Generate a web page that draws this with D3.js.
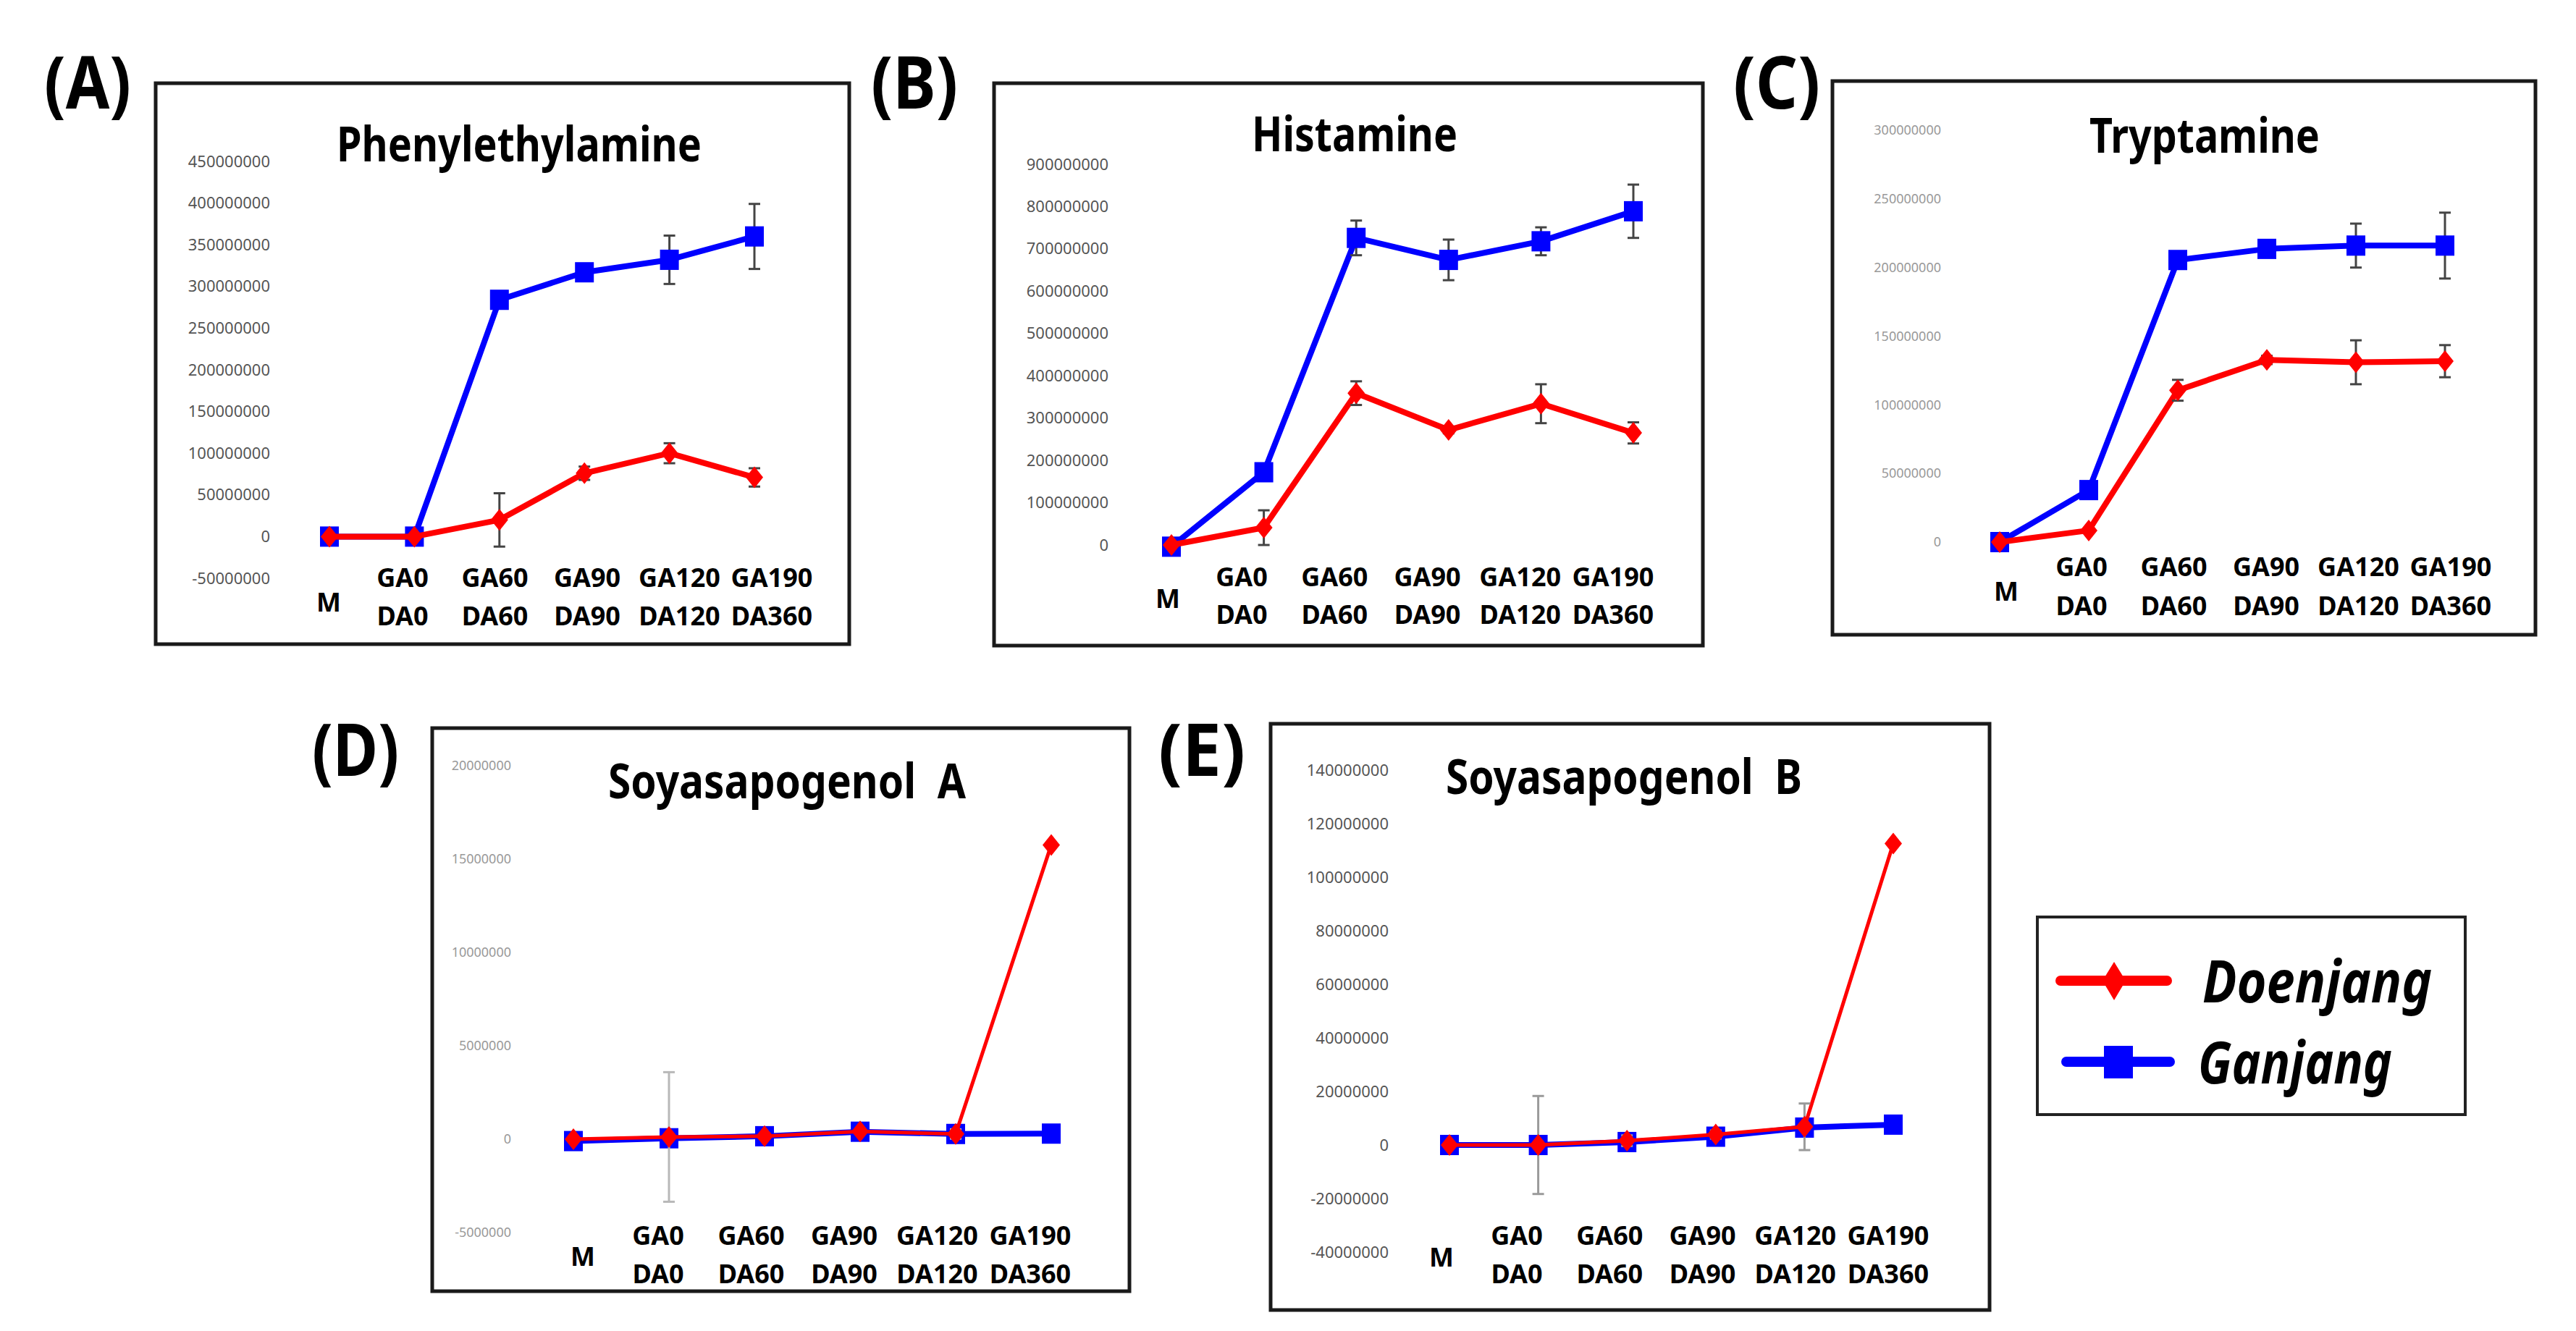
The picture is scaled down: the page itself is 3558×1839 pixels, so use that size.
<!DOCTYPE html>
<html>
<head>
<meta charset="utf-8">
<script src="https://cdn.jsdelivr.net/npm/d3@7"></script>
<style>
  body { margin: 0; background: #fff; }
  text { font-family: "Noto Sans", "Open Sans", sans-serif; }
</style>
</head>
<body>
<svg class="fig"></svg>
<script>
var categories = ['M', 'GA0', 'GA60', 'GA90', 'GA120', 'GA190'];
var gaLabels = ['GA0', 'GA60', 'GA90', 'GA120', 'GA190'];
var daLabels = ['DA0', 'DA60', 'DA90', 'DA120', 'DA360'];
var titles = ['Phenylethylamine', 'Histamine', 'Tryptamine', 'Soyasapogenol  A', 'Soyasapogenol  B'];
var tags = ['(A)', '(B)', '(C)', '(D)', '(E)'];
var seriesNames = ['Doenjang', 'Ganjang'];

// (A) Phenylethylamine
var pheTicks = [-50000000, 0, 50000000, 100000000, 150000000, 200000000, 250000000, 300000000, 350000000, 400000000, 450000000];
var pheDoen = [0, 0, 20000000, 76000000, 100000000, 71000000];
var pheDoenErr = [0, 0, 32000000, 8000000, 12000000, 11000000];
var pheGan = [0, 0, 284000000, 317000000, 332000000, 360000000];
var pheGanErr = [0, 0, 4000000, 9000000, 29000000, 39000000];

// (B) Histamine
var hisTicks = [0, 100000000, 200000000, 300000000, 400000000, 500000000, 600000000, 700000000, 800000000, 900000000];
var hisDoen = [0, 41000000, 359000000, 272000000, 334000000, 265000000];
var hisDoenErr = [0, 41000000, 28000000, 8000000, 46000000, 25000000];
var hisGan = [-4000000, 172000000, 726000000, 674000000, 718000000, 789000000];
var hisGanErr = [0, 8000000, 41000000, 48000000, 33000000, 63000000];

// (C) Tryptamine
var tryTicks = [0, 50000000, 100000000, 150000000, 200000000, 250000000, 300000000];
var tryDoen = [0, 8500000, 110600000, 132700000, 131000000, 131800000];
var tryDoenErr = [0, 0, 7600000, 3000000, 16000000, 11700000];
var tryGan = [0, 37900000, 205500000, 213600000, 216000000, 216000000];
var tryGanErr = [0, 0, 3000000, 3000000, 16000000, 24000000];

// (D) Soyasapogenol A
var saTicks = [-5000000, 0, 5000000, 10000000, 15000000, 20000000];
var saDoen = [0, 120000, 160000, 420000, 280000, 15760000];
var saDoenErr = [0, 3470000, 0, 0, 250000, 0];
var saGan = [-100000, 50000, 160000, 400000, 280000, 300000];
var saGanErr = [0, 0, 0, 0, 0, 0];

// (E) Soyasapogenol B
var sbTicks = [-40000000, -20000000, 0, 20000000, 40000000, 60000000, 80000000, 100000000, 120000000, 140000000];
var sbDoen = [0, 0, 1600000, 3900000, 6800000, 112600000];
var sbDoenErr = [0, 18300000, 2000000, 1500000, 8700000, 0];
var sbGan = [0, 0, 1100000, 3100000, 6500000, 7600000];
var sbGanErr = [0, 0, 0, 0, 0, 0];

var red = '#ff0000', blue = '#0000ff';

var panels = [
  { doen: pheDoen, doenErr: pheDoenErr, gan: pheGan, ganErr: pheGanErr, ticks: pheTicks,
    box: [215, 115, 1173, 890], tag: [61, 150], title: [465, 223, 504],
    yr: [799, 223], xr: [455, 1042], lr: [556, 1066], mx: 454, rows: [811, 864, 845],
    tickX: 373, tickSize: 22, tickColor: '#555', errColor: '#444', redW: 8 },
  { doen: hisDoen, doenErr: hisDoenErr, gan: hisGan, ganErr: hisGanErr, ticks: hisTicks,
    box: [1373, 115, 2352, 892], tag: [1203, 150], title: [1729, 209, 284],
    yr: [753, 227], xr: [1618, 2256], lr: [1715, 2228], mx: 1613, rows: [810, 862, 840],
    tickX: 1531, tickSize: 22, tickColor: '#555', errColor: '#444', redW: 8 },
  { doen: tryDoen, doenErr: tryDoenErr, gan: tryGan, ganErr: tryGanErr, ticks: tryTicks,
    box: [2531, 112, 3502, 877], tag: [2394, 150], title: [2886, 211, 318],
    yr: [749, 180], xr: [2762, 3377], lr: [2875, 3385], mx: 2771, rows: [796, 850, 830],
    tickX: 2681, tickSize: 18, tickColor: '#999', errColor: '#444', redW: 8 },
  { doen: saDoen, doenErr: saDoenErr, gan: saGan, ganErr: saGanErr, ticks: saTicks,
    box: [597, 1006, 1560, 1784], tag: [431, 1072], title: [840, 1103, 494],
    yr: [1703, 1058], xr: [792, 1452], lr: [909, 1423], mx: 805, rows: [1720, 1773, 1749],
    tickX: 706, tickSize: 18, tickColor: '#999', errColor: '#b8b8b8', redW: 5 },
  { doen: sbDoen, doenErr: sbDoenErr, gan: sbGan, ganErr: sbGanErr, ticks: sbTicks,
    box: [1755, 1000, 2748, 1810], tag: [1600, 1072], title: [1997, 1097, 492],
    yr: [1730, 1064], xr: [2002, 2615], lr: [2095, 2608], mx: 1991, rows: [1720, 1773, 1750],
    tickX: 1918, tickSize: 22, tickColor: '#555', errColor: '#9a9a9a', redW: 5 }
];

var svg = d3.select('.fig').attr('width', 3558).attr('height', 1839);

function drawPanel(p, i) {
  var g = svg.append('g');
  g.append('rect')
    .attr('x', p.box[0]).attr('y', p.box[1])
    .attr('width', p.box[2] - p.box[0]).attr('height', p.box[3] - p.box[1])
    .attr('fill', '#fff').attr('stroke', '#1a1a1a').attr('stroke-width', 5);

  g.append('text').attr('x', p.tag[0]).attr('y', p.tag[1])
    .attr('font-size', 100).attr('font-weight', 700)
    .attr('textLength', 120).attr('lengthAdjust', 'spacingAndGlyphs')
    .text(tags[i]);

  g.append('text').attr('x', p.title[0]).attr('y', p.title[1])
    .attr('font-size', 66).attr('font-weight', 700)
    .attr('textLength', p.title[2]).attr('lengthAdjust', 'spacingAndGlyphs')
    .style('white-space', 'pre')
    .text(titles[i]);

  var x = d3.scalePoint().domain(categories).range(p.xr);
  var y = d3.scaleLinear().domain([p.ticks[0], p.ticks[p.ticks.length - 1]]).range(p.yr);

  // y axis: labels only, no line (hyphen minus like the original)
  var yAxis = d3.axisLeft(y).tickValues(p.ticks).tickSize(0).tickPadding(0)
    .tickFormat(function(d) { return String(d); });
  var ax = g.append('g').attr('transform', 'translate(' + p.tickX + ',0)').call(yAxis);
  ax.select('.domain').remove();
  ax.selectAll('text')
    .attr('font-size', p.tickSize)
    .attr('fill', p.tickColor)
    .style('font-family', '"Noto Sans", sans-serif');

  // category labels
  var lx = d3.scalePoint().domain(gaLabels).range(p.lr);
  g.append('text').attr('x', p.mx).attr('y', p.rows[2])
    .attr('text-anchor', 'middle').attr('font-size', 36).attr('font-weight', 700)
    .text(categories[0]);
  g.selectAll('.ga').data(gaLabels).enter().append('text')
    .attr('x', function(d) { return lx(d); }).attr('y', p.rows[0])
    .attr('text-anchor', 'middle').attr('font-size', 36).attr('font-weight', 700)
    .text(function(d) { return d; });
  g.selectAll('.da').data(daLabels).enter().append('text')
    .attr('x', function(d, j) { return lx(gaLabels[j]); }).attr('y', p.rows[1])
    .attr('text-anchor', 'middle').attr('font-size', 36).attr('font-weight', 700)
    .text(function(d) { return d; });

  function series(vals, errs, color, width, marker) {
    var pts = vals.map(function(v, j) { return { c: categories[j], v: v, e: errs[j] }; });
    var line = d3.line().x(function(d) { return x(d.c); }).y(function(d) { return y(d.v); });
    g.append('path').datum(pts)
      .attr('d', line).attr('fill', 'none')
      .attr('stroke', color).attr('stroke-width', width).attr('stroke-linejoin', 'round');

    var eb = g.selectAll(null).data(pts.filter(function(d) { return d.e > 0; })).enter().append('g');
    eb.append('line')
      .attr('x1', function(d) { return x(d.c); }).attr('x2', function(d) { return x(d.c); })
      .attr('y1', function(d) { return y(d.v + d.e); }).attr('y2', function(d) { return y(d.v - d.e); })
      .attr('stroke', p.errColor).attr('stroke-width', 3);
    [1, -1].forEach(function(s) {
      eb.append('line')
        .attr('x1', function(d) { return x(d.c) - 8; }).attr('x2', function(d) { return x(d.c) + 8; })
        .attr('y1', function(d) { return y(d.v + s * d.e); }).attr('y2', function(d) { return y(d.v + s * d.e); })
        .attr('stroke', p.errColor).attr('stroke-width', 3);
    });

    if (marker === 'square') {
      g.selectAll(null).data(pts).enter().append('rect')
        .attr('x', function(d) { return x(d.c) - 13; })
        .attr('y', function(d) { return y(d.v) - 14; })
        .attr('width', 26).attr('height', 28).attr('fill', color);
    } else {
      g.selectAll(null).data(pts).enter().append('path')
        .attr('d', function(d) {
          var cx = x(d.c), cy = y(d.v);
          return 'M' + cx + ',' + (cy - 15) + 'L' + (cx + 12) + ',' + cy + 'L' + cx + ',' + (cy + 15) + 'L' + (cx - 12) + ',' + cy + 'Z';
        })
        .attr('fill', color);
    }
  }

  series(p.gan, p.ganErr, blue, 8, 'square');
  series(p.doen, p.doenErr, red, p.redW, 'diamond');
}

panels.forEach(drawPanel);

// legend
var lg = svg.append('g');
lg.append('rect').attr('x', 2814).attr('y', 1267).attr('width', 591).attr('height', 273)
  .attr('fill', '#fff').attr('stroke', '#222').attr('stroke-width', 4);
lg.append('line').attr('x1', 2846).attr('x2', 2993).attr('y1', 1355).attr('y2', 1355)
  .attr('stroke', red).attr('stroke-width', 14).attr('stroke-linecap', 'round');
lg.append('path').attr('d', 'M2920,1329L2936,1355L2920,1382L2904,1355Z').attr('fill', red);
lg.append('line').attr('x1', 2854).attr('x2', 2997).attr('y1', 1467).attr('y2', 1467)
  .attr('stroke', blue).attr('stroke-width', 14).attr('stroke-linecap', 'round');
lg.append('rect').attr('x', 2906).attr('y', 1445).attr('width', 40).attr('height', 45).attr('fill', blue);
lg.append('text').attr('x', 3042).attr('y', 1385)
  .attr('font-size', 80).attr('font-weight', 700).attr('font-style', 'italic')
  .attr('textLength', 317).attr('lengthAdjust', 'spacingAndGlyphs')
  .text(seriesNames[0]);
lg.append('text').attr('x', 3036).attr('y', 1497)
  .attr('font-size', 80).attr('font-weight', 700).attr('font-style', 'italic')
  .attr('textLength', 268).attr('lengthAdjust', 'spacingAndGlyphs')
  .text(seriesNames[1]);
</script>
</body>
</html>
